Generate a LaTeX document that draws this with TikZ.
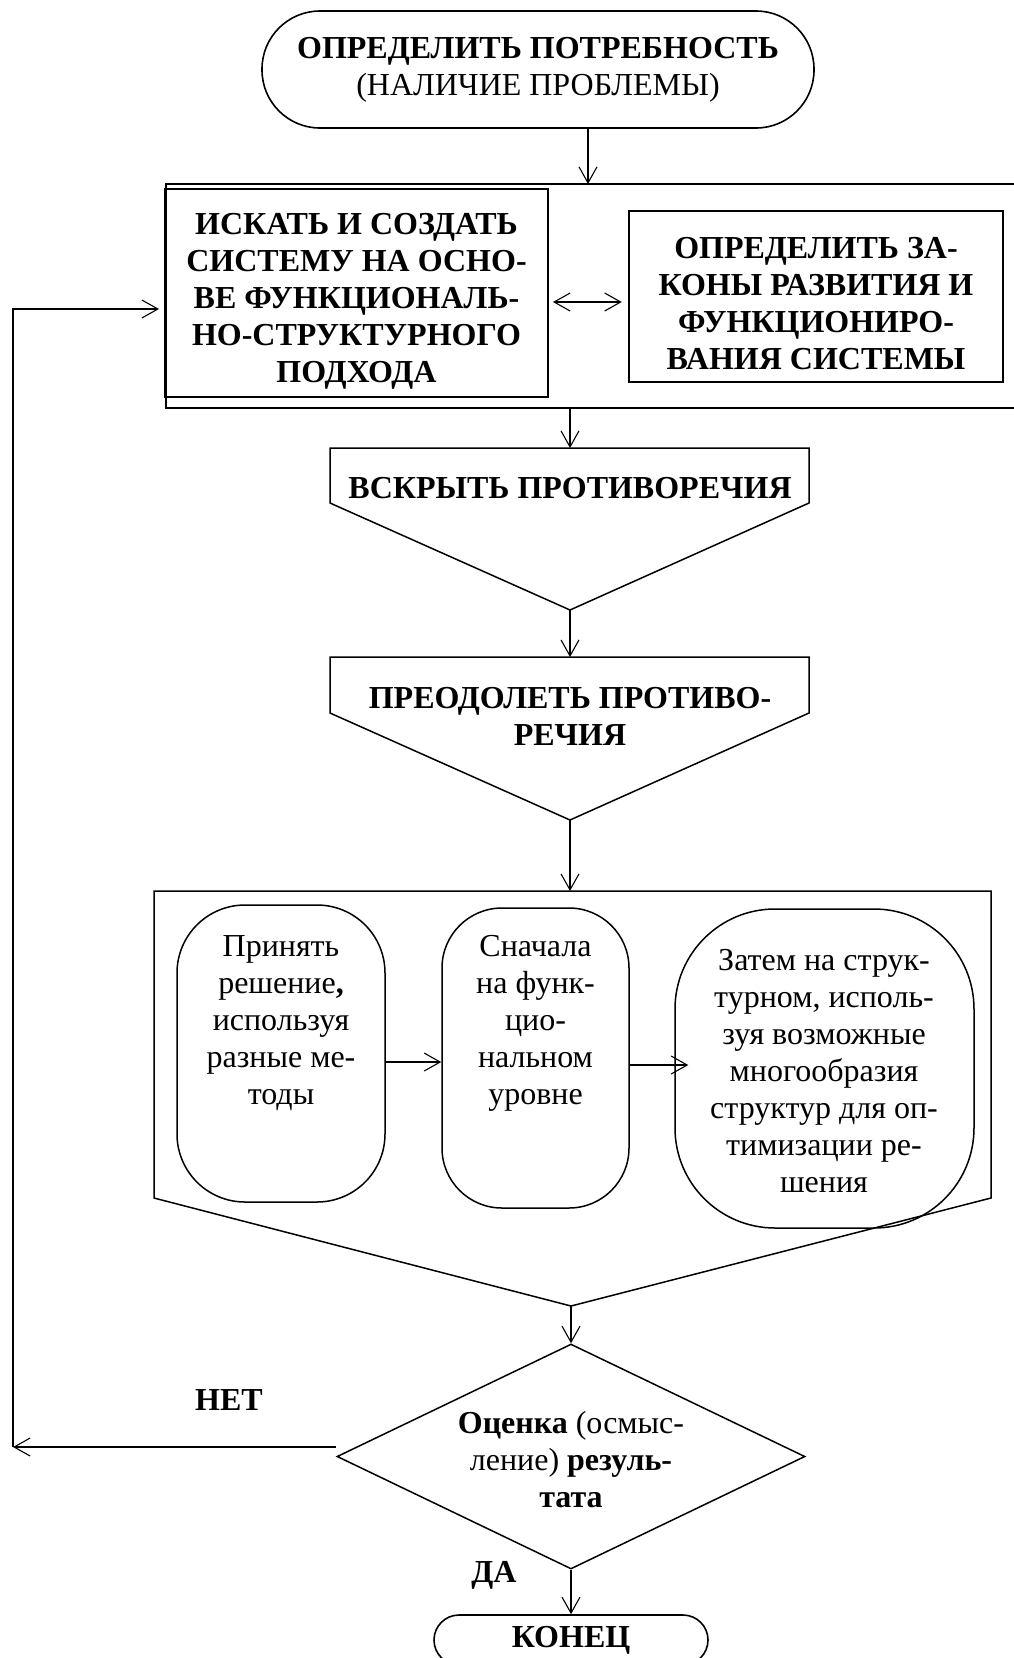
\documentclass[tikz,border=0pt]{standalone}
\usepackage{fontspec}
\setmainfont{Liberation Serif}
\usetikzlibrary{arrows.meta,shapes.geometric,calc}
\begin{document}
\begin{tikzpicture}[x=1pt,y=-1pt,
  line width=1.5pt,
  >={Straight Barb[length=16pt,width=18pt]},
  conn/.style={->,line width=1.1pt},
  bt/.style={font=\bfseries\fontsize{32}{37}\selectfont,align=center,inner sep=0pt},
  nt/.style={font=\fontsize{32}{37}\selectfont,align=center,inner sep=0pt},
  boxr/.style={draw,line width=2pt,rectangle,inner sep=0pt},
  rbox/.style={draw,line width=1.5pt,rectangle,inner sep=0pt},
  shp/.style={draw,line width=1.5pt}
]
\useasboundingbox (0,0) rectangle (1013,1658);

% start terminator
\node[draw,line width=1.6pt,rounded corners=58pt,minimum width=552pt,minimum height=117pt,inner sep=0pt,
      font=\fontsize{32}{37}\selectfont,align=center] (start) at (538,69.5)
  {\textbf{ОПРЕДЕЛИТЬ ПОТРЕБНОСТЬ}\\(НАЛИЧИЕ ПРОБЛЕМЫ)};

% outer frame (open at right edge)
\draw[line width=2pt] (1020,184) -- (166,184) -- (166,408) -- (1020,408);
\coordinate (frT) at (588,184);
\coordinate (frB) at (570,408);

\node[boxr,minimum width=383pt,minimum height=208pt] (lbox) at (356.5,293) {};
\node[bt] (lboxt) at (356.5,301)
  {ИСКАТЬ И СОЗДАТЬ\\СИСТЕМУ НА ОСНО-\\ВЕ ФУНКЦИОНАЛЬ-\\НО-СТРУКТУРНОГО\\ПОДХОДА};
\node[boxr,line width=2.4pt,minimum width=374pt,minimum height=171pt] (rbox) at (816,296.5) {};
\node[bt] (rboxt) at (816,304)
  {ОПРЕДЕЛИТЬ ЗА-\\КОНЫ РАЗВИТИЯ И\\ФУНКЦИОНИРО-\\ВАНИЯ СИСТЕМЫ};
\coordinate (dy) at (0,302);
\draw[<->,line width=1.1pt,shorten <=4pt,shorten >=6pt] (lbox.east |- dy) -- (rbox.west |- dy);

\draw[conn] (start.south -| frT) -- (frT);

% pentagon 1
\coordinate (p1T) at (570,448);
\coordinate (p1P) at (570,610);
\draw[shp] (330,448) -- (p1T) -- (809,448) -- (809,503) -- (p1P) -- (330,503) -- cycle;
\node[bt] (p1t) at (570,488) {ВСКРЫТЬ ПРОТИВОРЕЧИЯ};
\draw[conn] (frB) -- (frB |- p1T);

% pentagon 2
\coordinate (p2T) at (570,657);
\coordinate (p2P) at (570,820);
\draw[shp] (330,657) -- (p2T) -- (809,657) -- (809,713) -- (p2P) -- (330,713) -- cycle;
\node[bt] (p2t) at (570,716.5) {ПРЕОДОЛЕТЬ ПРОТИВО-\\РЕЧИЯ};
\draw[conn] (p1P) -- (p2T);

% big pentagon
\coordinate (bT) at (571,891);
\coordinate (bP) at (571,1306);
\draw[shp] (154,891) -- (bT) -- (991,891) -- (991,1198) -- (bP) -- (154,1198) -- cycle;
\draw[conn] (p2P) -- (p2P |- bT);

\node[rbox,rounded corners=68pt,minimum width=208pt,minimum height=297pt] (b1) at (281,1053.5) {};
\node[rbox,rounded corners=60pt,minimum width=187pt,minimum height=300pt] (b2) at (535.5,1058) {};
\node[rbox,rounded corners=100pt,minimum width=299pt,minimum height=319pt] (b3) at (824.5,1068.5) {};
\node[nt] (b1t) at (281,1023) {Принять\\решение\textbf{,}\\используя\\разные ме-\\тоды};
\node[nt] (b2t) at (535.5,1023) {Сначала\\на функ-\\цио-\\нальном\\уровне};
\node[nt] (b3t) at (824,1071) {Затем на струк-\\турном, исполь-\\зуя возможные\\многообразия\\структур для оп-\\тимизации ре-\\шения};
\coordinate (a1) at (0,1062);
\coordinate (a2) at (0,1065);
\draw[conn] (b1.east |- a1) -- (b2.west |- a1);
\draw[conn] (b2.east |- a2) -- ($(b3.west |- a2)+(14,0)$);

% decision
\node[draw,diamond,line width=1.5pt,minimum width=468pt,minimum height=225pt,inner sep=0pt] (dia) at (571,1456.5) {};
\node[nt] (diat) at (571,1460) {\textbf{Оценка} (осмыс-\\ление) \textbf{резуль-}\\\textbf{тата}};
\draw[conn] (bP) -- (dia.north);

\node[bt] (net) at (229,1400) {НЕТ};
\node[bt] (da) at (494,1575) {ДА};

% feedback loop
\coordinate (fbB) at (13,1447);
\coordinate (fbT) at (13,309);
\draw[conn] (dia.west |- fbB) -- (fbB);
\draw[conn] (fbB) -- (fbT) -- ($(fbT -| lbox.west)+(-5,0)$);

% end terminator
\node[draw,line width=1.6pt,rounded corners=25pt,minimum width=274pt,minimum height=50pt,bt] (end) at (571,1640) {КОНЕЦ};
\draw[conn] (dia.south) -- (end.north);
\end{tikzpicture}
\end{document}
